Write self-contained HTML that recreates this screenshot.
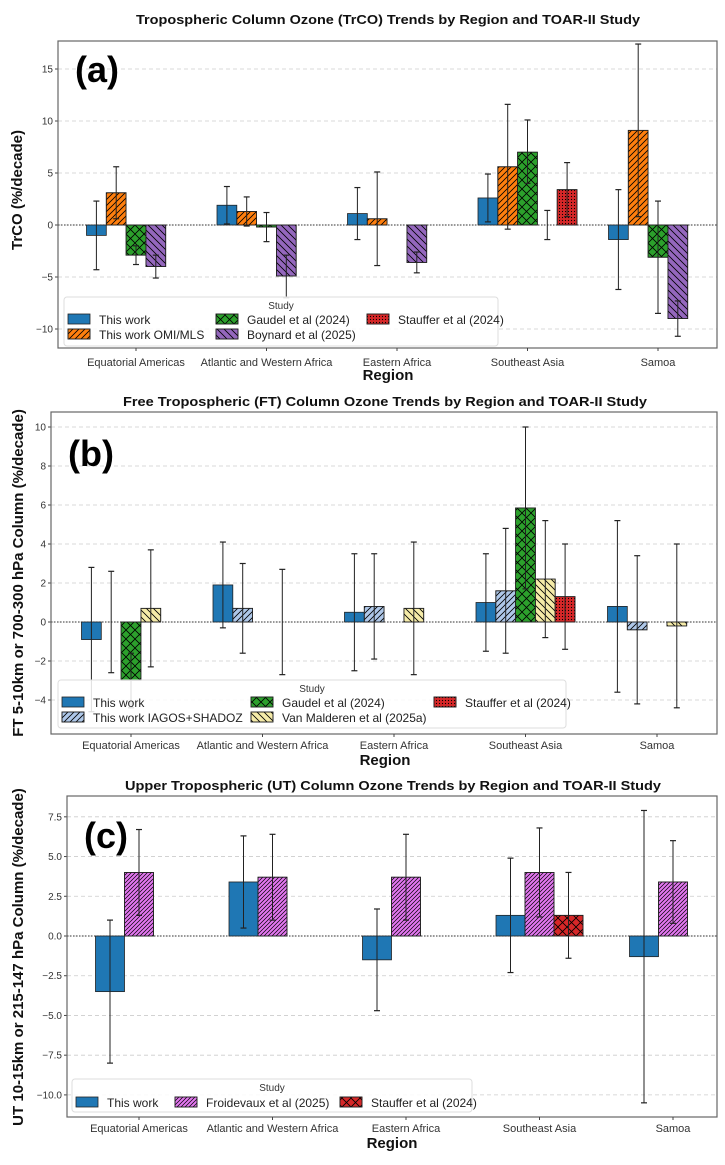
<!DOCTYPE html>
<html><head><meta charset="utf-8"><style>
html,body{margin:0;padding:0;background:#fff;}
svg{display:block;font-family:"Liberation Sans",sans-serif;}
</style></head><body>
<svg id="fig" width="725" height="1165" viewBox="0 0 725 1165" xmlns="http://www.w3.org/2000/svg">
<defs>
<pattern id="p-fwd" patternUnits="userSpaceOnUse" width="6" height="6"><rect width="6" height="6" fill="none"/><path d="M-1,1 l2,-2 M0,6 l6,-6 M5,7 l2,-2" stroke="#000" stroke-width="0.8"/></pattern>
<pattern id="p-fwd2" patternUnits="userSpaceOnUse" width="4" height="4"><path d="M-1,1 l2,-2 M0,4 l4,-4 M3,5 l2,-2" stroke="#000" stroke-width="0.7"/></pattern>
<pattern id="p-back" patternUnits="userSpaceOnUse" width="7" height="7"><path d="M-1,6 l2,2 M0,0 l7,7 M6,-1 l2,2" stroke="#000" stroke-width="0.8"/></pattern>
<pattern id="p-x" patternUnits="userSpaceOnUse" width="9" height="9"><path d="M0,0 l9,9 M9,0 l-9,9" stroke="#000" stroke-width="0.8"/></pattern>
<pattern id="p-dot" patternUnits="userSpaceOnUse" width="3" height="3"><circle cx="1.5" cy="1.5" r="0.6" fill="#000"/></pattern>
</defs>
</svg>
<script>
// ---------- Panel (a) data ----------
const regions = ["Equatorial Americas","Atlantic and Western Africa","Eastern Africa","Southeast Asia","Samoa"];
const aSeries = ["This work","This work OMI/MLS","Gaudel et al (2024)","Boynard et al (2025)","Stauffer et al (2024)"];
const aThisWork = [-1.0,1.9,1.1,2.6,-1.4];
const aThisWorkLo = [-4.3,0.1,-1.4,0.3,-6.2];
const aThisWorkHi = [2.3,3.7,3.6,4.9,3.4];
const aOmi = [3.1,1.3,0.6,5.6,9.1];
const aOmiLo = [0.6,-0.1,-3.9,-0.4,0.8];
const aOmiHi = [5.6,2.7,5.1,11.6,17.4];
const aGaudel = [-2.9,-0.2,null,7.0,-3.1];
const aGaudelLo = [-3.8,-1.6,null,4.0,-8.5];
const aGaudelHi = [-2.0,1.2,null,10.1,2.3];
const aBoynard = [-4.0,-4.9,-3.6,0,-9.0];
const aBoynardLo = [-5.1,-7.0,-4.6,-1.4,-10.7];
const aBoynardHi = [-2.9,-2.9,-2.6,1.4,-7.3];
const aStauffer = [null,null,null,3.4,null];
const aStaufferLo = [null,null,null,0.8,null];
const aStaufferHi = [null,null,null,6.0,null];
const aTicks = [15,10,5,0,-5,-10];
// ---------- Panel (b) data ----------
const bSeries = ["This work","This work IAGOS+SHADOZ","Gaudel et al (2024)","Van Malderen et al (2025a)","Stauffer et al (2024)"];
const bThisWork = [-0.9,1.9,0.5,1.0,0.8];
const bThisWorkLo = [-4.6,-0.3,-2.5,-1.5,-3.6];
const bThisWorkHi = [2.8,4.1,3.5,3.5,5.2];
const bIagos = [0,0.7,0.8,1.6,-0.4];
const bIagosLo = [-2.6,-1.6,-1.9,-1.6,-4.2];
const bIagosHi = [2.6,3.0,3.5,4.8,3.4];
const bGaudel = [-3.0,null,null,5.85,null];
const bGaudelLo = [-4.4,null,null,1.7,null];
const bGaudelHi = [-1.6,null,null,10.0,null];
const bVanM = [0.7,0,0.7,2.2,-0.2];
const bVanMLo = [-2.3,-2.7,-2.7,-0.8,-4.4];
const bVanMHi = [3.7,2.7,4.1,5.2,4.0];
const bStauffer = [null,null,null,1.3,null];
const bStaufferLo = [null,null,null,-1.4,null];
const bStaufferHi = [null,null,null,4.0,null];
const bTicks = [10,8,6,4,2,0,-2,-4];
// ---------- Panel (c) data ----------
const cSeries = ["This work","Froidevaux et al (2025)","Stauffer et al (2024)"];
const cThisWork = [-3.5,3.4,-1.5,1.3,-1.3];
const cThisWorkLo = [-8.0,0.5,-4.7,-2.3,-10.5];
const cThisWorkHi = [1.0,6.3,1.7,4.9,7.9];
const cFroid = [4.0,3.7,3.7,4.0,3.4];
const cFroidLo = [1.3,1.0,1.0,1.2,0.8];
const cFroidHi = [6.7,6.4,6.4,6.8,6.0];
const cStauffer = [null,null,null,1.3,null];
const cStaufferLo = [null,null,null,-1.4,null];
const cStaufferHi = [null,null,null,4.0,null];
const cTicks = [7.5,5.0,2.5,0.0,-2.5,-5.0,-7.5,-10.0];

const NS="http://www.w3.org/2000/svg";
const svg=document.getElementById('fig');
function mk(tag,attrs,parent,txt){const e=document.createElementNS(NS,tag);for(const k in attrs)e.setAttribute(k,attrs[k]);if(txt!==undefined)e.textContent=txt;(parent||svg).appendChild(e);return e;}

function panel(P){
  const g=mk('g',{});
  
  
  const y=v=>P.y0-v*P.k;
  const x=i=>P.cx0+i*P.dx;
  // grid + ticks
  P.ticks.forEach(t=>{
    const gl=mk('line',{x1:P.left,x2:P.right,y1:y(t),y2:y(t),stroke:'#ccc','stroke-dasharray':'4,3','stroke-width':0.8},g);
    
    
    mk('line',{x1:P.left-3,x2:P.left,y1:y(t),y2:y(t),stroke:'#444'},g);
    const tl=mk('text',{x:P.left-5,y:y(t)+3.5,'text-anchor':'end','font-size':10,fill:'#333'},g,P.tickFmt(t));
    
    
  });
  const zl=mk('line',{x1:P.left,x2:P.right,y1:y(0),y2:y(0),stroke:'#333','stroke-dasharray':'1.5,1.5','stroke-width':1.1},g);
  
  
  // bars
  const n=P.series.length;
  P.series.forEach((s,si)=>{
    s.vals.forEach((v,i)=>{
      if(v===null) return;
      const bx=x(i)+(si-(n-1)/2)*P.bw-P.bw/2;
      const top=Math.min(y(v),y(0)),h=Math.abs(y(v)-y(0));
      const r=mk('rect',{x:bx,y:top,width:P.bw,height:h,fill:s.color,stroke:'#222','stroke-width':0.8},g);
      
      
      if(s.hatch) mk('rect',{x:bx,y:top,width:P.bw,height:h,fill:'url(#'+s.hatch+')',stroke:'#222','stroke-width':0.8},g);
    });
  });
  P.series.forEach((s,si)=>{
    s.vals.forEach((v,i)=>{
      if(v===null||s.lo[i]===null) return;
      const cx=x(i)+(si-(n-1)/2)*P.bw;
      const e=mk('line',{x1:cx,x2:cx,y1:y(s.lo[i]),y2:y(s.hi[i]),stroke:'#222','stroke-width':1},g);
      
      
      mk('line',{x1:cx-3,x2:cx+3,y1:y(s.lo[i]),y2:y(s.lo[i]),stroke:'#222','stroke-width':1.2},g);
      mk('line',{x1:cx-3,x2:cx+3,y1:y(s.hi[i]),y2:y(s.hi[i]),stroke:'#222','stroke-width':1.2},g);
    });
  });
  // axes frame
  const fr=mk('rect',{x:P.left,y:P.top,width:P.right-P.left,height:P.bottom-P.top,fill:'none',stroke:'#666','stroke-width':1.2},g);
  
  
  // x ticks
  regions.forEach((r,i)=>{
    mk('line',{x1:x(i),x2:x(i),y1:P.bottom,y2:P.bottom+3,stroke:'#444'},g);
    const t=mk('text',{x:x(i),y:P.xtickY,'text-anchor':'middle','font-size':11,fill:'#333'},g,r);
    
    
  });
  const xt=mk('text',{x:P.xlabelX,y:P.xlabelY,'text-anchor':'middle','font-size':15,'font-weight':'bold',fill:'#111'},g,'Region');
  
  
  const yt=mk('text',{x:0,y:0,transform:'translate('+P.ylabelX+','+P.ylabelY+') rotate(-90)','text-anchor':'middle','font-size':P.ylabelSize,'font-weight':'bold',fill:'#111'},g,P.ylabel);
  
  
  const tt=mk('text',{x:P.titleX,y:P.titleY,'text-anchor':'middle','font-size':13,'font-weight':'bold',fill:'#111',textLength:P.titleLen,lengthAdjust:'spacingAndGlyphs'},g,P.title);
  
  
  const pl=mk('text',{x:P.left+17,y:P.letterY,'font-size':36,'font-weight':'bold',fill:'#000'},g,P.letter);
  
  
  // legend
  const L=P.legend;
  const lg=mk('g',{},g);
  
  
  mk('rect',{x:L.x,y:L.y,width:L.w,height:L.h,rx:3,fill:'#fff','fill-opacity':0.85,stroke:'#ddd'},lg);
  mk('text',{x:L.x+L.w/2,y:L.y+12,'text-anchor':'middle','font-size':10,fill:'#333'},lg,'Study');
  P.series.forEach((s,si)=>{
    const pos=L.pos[si];
    const en=mk('g',{},lg);
    
    
    mk('rect',{x:pos[0],y:pos[1]-6,width:22,height:10,fill:s.color,stroke:'#222','stroke-width':0.8},en);
    if(s.hatch) mk('rect',{x:pos[0],y:pos[1]-6,width:22,height:10,fill:'url(#'+s.hatch+')',stroke:'#222','stroke-width':0.8},en);
    mk('text',{x:pos[0]+31,y:pos[1]+4,'font-size':12,fill:'#222'},en,s.label);
  });
}

panel({name:'panel-a-trco',y0:225,k:10.4,cx0:136,dx:130.5,bw:19.8,left:58,right:717,top:41,bottom:348,
  ticks:aTicks,tickFmt:t=>String(t).replace('-','\u2212'),xtickY:366,xlabelX:388,xlabelY:380,
  ylabel:'TrCO (%/decade)',ylabelX:22,ylabelY:190,ylabelSize:15,
  title:'Tropospheric Column Ozone (TrCO) Trends by Region and TOAR-II Study',titleX:388,titleY:24,titleLen:504,
  letter:'(a)',letterY:82,
  series:[
    {key:'this-work',label:aSeries[0],vals:aThisWork,lo:aThisWorkLo,hi:aThisWorkHi,color:'#1f77b4'},
    {key:'omi-mls',label:aSeries[1],vals:aOmi,lo:aOmiLo,hi:aOmiHi,color:'#ff7f0e',hatch:'p-fwd'},
    {key:'gaudel',label:aSeries[2],vals:aGaudel,lo:aGaudelLo,hi:aGaudelHi,color:'#2ca02c',hatch:'p-x'},
    {key:'boynard',label:aSeries[3],vals:aBoynard,lo:aBoynardLo,hi:aBoynardHi,color:'#9467bd',hatch:'p-back'},
    {key:'stauffer',label:aSeries[4],vals:aStauffer,lo:aStaufferLo,hi:aStaufferHi,color:'#d62728',hatch:'p-dot'}],
  legend:{x:64,y:297,w:434,h:49,pos:[[68,320],[68,335],[216,320],[216,335],[367,320]]}
});

panel({name:'panel-b-ft',y0:622,k:19.5,cx0:131,dx:131.5,bw:19.8,left:51,right:717,top:412,bottom:734,
  ticks:bTicks,tickFmt:t=>String(t).replace('-','\u2212'),xtickY:749,xlabelX:385,xlabelY:765,
  ylabel:'FT 5-10km or 700-300 hPa Column (%/decade)',ylabelX:23,ylabelY:573,ylabelSize:15,
  title:'Free Tropospheric (FT) Column Ozone Trends by Region and TOAR-II Study',titleX:385,titleY:406,titleLen:524,
  letter:'(b)',letterY:466,
  series:[
    {key:'this-work',label:bSeries[0],vals:bThisWork,lo:bThisWorkLo,hi:bThisWorkHi,color:'#1f77b4'},
    {key:'iagos-shadoz',label:bSeries[1],vals:bIagos,lo:bIagosLo,hi:bIagosHi,color:'#aec7e8',hatch:'p-fwd'},
    {key:'gaudel',label:bSeries[2],vals:bGaudel,lo:bGaudelLo,hi:bGaudelHi,color:'#2ca02c',hatch:'p-x'},
    {key:'van-malderen',label:bSeries[3],vals:bVanM,lo:bVanMLo,hi:bVanMHi,color:'#f5eba8',hatch:'p-back'},
    {key:'stauffer',label:bSeries[4],vals:bStauffer,lo:bStaufferLo,hi:bStaufferHi,color:'#d62728',hatch:'p-dot'}],
  legend:{x:58,y:680,w:508,h:48,pos:[[62,703],[62,718],[251,703],[251,718],[434,703]]}
});

panel({name:'panel-c-ut',y0:936,k:15.89,cx0:139,dx:133.5,bw:29,left:67,right:717,top:796,bottom:1117,
  ticks:cTicks,tickFmt:t=>t.toFixed(1).replace('-','\u2212'),xtickY:1132,xlabelX:392,xlabelY:1148,
  ylabel:'UT 10-15km or 215-147 hPa Column (%/decade)',ylabelX:23,ylabelY:957,ylabelSize:15,
  title:'Upper Tropospheric (UT) Column Ozone Trends by Region and TOAR-II Study',titleX:393,titleY:790,titleLen:536,
  letter:'(c)',letterY:848,
  series:[
    {key:'this-work',label:cSeries[0],vals:cThisWork,lo:cThisWorkLo,hi:cThisWorkHi,color:'#1f77b4'},
    {key:'froidevaux',label:cSeries[1],vals:cFroid,lo:cFroidLo,hi:cFroidHi,color:'#e377f0',hatch:'p-fwd2'},
    {key:'stauffer',label:cSeries[2],vals:cStauffer,lo:cStaufferLo,hi:cStaufferHi,color:'#d62728',hatch:'p-x'}],
  legend:{x:72,y:1079,w:400,h:33,pos:[[76,1103],[175,1103],[340,1103]]}
});
</script>
</body></html>
